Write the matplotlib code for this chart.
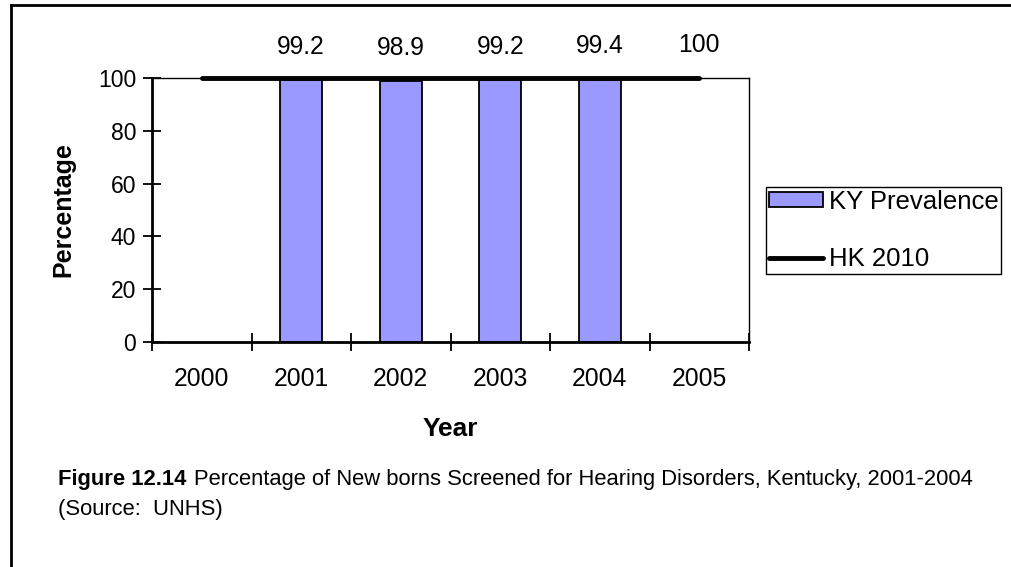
import matplotlib
matplotlib.use('Agg')
import matplotlib.pyplot as plt
from matplotlib.lines import Line2D
import numpy as np

plt.rcParams['font.family'] = ['Liberation Sans', 'DejaVu Sans']

years = ['2000', '2001', '2002', '2003', '2004', '2005']
ky_prevalence = [np.nan, 99.2, 98.9, 99.2, 99.4, np.nan]
hk_2010 = [100, 100, 100, 100, 100, 100]
y_ticks = [0, 20, 40, 60, 80, 100]

BAR_COLOR = '#9999FF'
FS = 16.5
FS_BIG = 17.8

fig = plt.figure(figsize=(10.11, 5.67), dpi=100)
ax = fig.add_axes([152 / 1011, 1 - 342 / 567, 597 / 1011, 264 / 567])

x = np.arange(len(years))
ax.bar(x, ky_prevalence, width=0.42, color=BAR_COLOR, edgecolor='black',
       linewidth=1.3, zorder=2, label='KY Prevalence')
ax.plot(x, hk_2010, color='black', lw=3.5, solid_capstyle='round', zorder=4,
        clip_on=False, label='HK 2010')

# data labels above the bars and at the end of the line
for xi, v in zip(x, ky_prevalence):
    if not np.isnan(v):
        ax.annotate(f'{v:.1f}', xy=(xi, v), xytext=(0, 24), textcoords='offset points',
                    ha='center', va='center', fontsize=FS_BIG, annotation_clip=False)
ax.annotate(f'{hk_2010[-1]:g}', xy=(x[-1], hk_2010[-1]), xytext=(0, 24), textcoords='offset points',
            ha='center', va='center', fontsize=FS_BIG, annotation_clip=False)

ax.set_xlim(-0.5, len(years) - 0.5)
ax.set_ylim(0, 100)
ax.set_yticks(y_ticks)
ax.set_xticks(np.arange(len(years) + 1) - 0.5)
ax.set_xticklabels([])
ax.set_xticks(x, minor=True)
ax.set_xticklabels(years, minor=True, fontsize=FS_BIG)
ax.tick_params(axis='x', which='minor', length=0, pad=18)
ax.tick_params(axis='x', which='major', direction='inout', length=13, width=1.3)
ax.tick_params(axis='y', direction='inout', length=13, width=1.3, labelsize=FS, pad=5)

for side in ['top', 'right']:
    ax.spines[side].set_linewidth(1.0)
for side in ['left', 'bottom']:
    ax.spines[side].set_linewidth(2.0)

ax.set_ylabel('Percentage', fontsize=18, fontweight='bold', labelpad=16)
ax.set_xlabel('Year', fontsize=19, fontweight='bold', labelpad=19)

handles, labels = ax.get_legend_handles_labels()
order = [labels.index('KY Prevalence'), labels.index('HK 2010')]
leg = ax.legend([handles[i] for i in order], [labels[i] for i in order],
                loc='upper left', bbox_to_anchor=(766 / 1011, 1 - 187 / 567),
                bbox_transform=fig.transFigure, fontsize=18.5, frameon=True, fancybox=False,
                edgecolor='black', framealpha=1, borderpad=0.1, borderaxespad=0,
                handlelength=2.1, handleheight=0.5, handletextpad=0.25, labelspacing=1.3)
leg.get_frame().set_linewidth(1.0)

# outer frame (left and top edges)
fig.add_artist(Line2D([11 / 1011, 11 / 1011], [0, 1 - 5 / 567], color='black', lw=2))
fig.add_artist(Line2D([11 / 1011, 1], [1 - 5 / 567, 1 - 5 / 567], color='black', lw=2))

# caption
CAP_FS = 15.8
renderer = fig.canvas.get_renderer()
t1 = fig.text(58 / 1011, 1 - 480 / 567, 'Figure 12.14', fontsize=CAP_FS, fontweight='bold',
              ha='left', va='center')
bb = t1.get_window_extent(renderer)
fig.text(bb.x1 / fig.bbox.width + 8 / 1011, 1 - 480 / 567,
         'Percentage of New borns Screened for Hearing Disorders, Kentucky, 2001-2004',
         fontsize=CAP_FS, ha='left', va='center')
fig.text(58 / 1011, 1 - 510 / 567, '(Source:  UNHS)', fontsize=CAP_FS, ha='left', va='center')

fig.savefig('out.png', dpi=100, facecolor='white')
